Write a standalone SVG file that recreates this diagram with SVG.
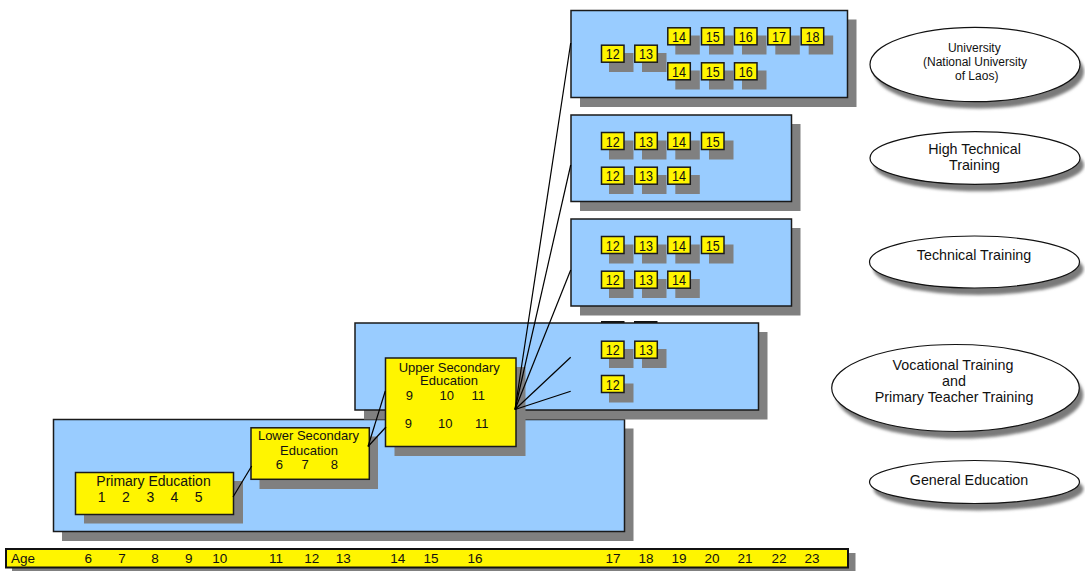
<svg xmlns="http://www.w3.org/2000/svg" width="1085" height="571" viewBox="0 0 1085 571">
<defs>
<filter id="blur" x="-10%" y="-20%" width="120%" height="140%"><feGaussianBlur stdDeviation="1.6"/></filter>
</defs>
<style>
text{font-family:"Liberation Sans",Arial,sans-serif;fill:#111}
.sh{fill:#808080}
.big{fill:#99CCFF;stroke:#1a1a1a;stroke-width:1.5}
.yl{fill:#FFF500;stroke:#1a1a1a;stroke-width:1.5}
.n{font-size:14.5px;text-anchor:middle}
.t13{font-size:13px;text-anchor:middle}
.t14{font-size:14px;text-anchor:middle}
.el{fill:#fff;stroke:#111;stroke-width:1.2}
.esh{fill:#7a7a7a;filter:url(#blur)}
.et{font-size:14.3px;text-anchor:middle}
.eu{font-size:12px;text-anchor:middle}
.age{font-size:13.5px;text-anchor:middle}
.cn line{stroke:#000;stroke-width:1.2}
</style>

<!-- General Education -->
<g id="general-education">
<rect class="sh" x="62" y="428.5" width="571.5" height="112.5"/>
<rect class="big" x="53.5" y="419.5" width="571" height="112"/>
</g>

<!-- Vocational Training -->
<g id="vocational-training">
<rect x="601" y="321" width="23.5" height="2.5" fill="#111"/>
<rect x="634" y="321" width="23.5" height="2.5" fill="#111"/>
<rect class="sh" x="364" y="332" width="403.5" height="87.5"/>
<rect class="big" x="355" y="323" width="403.5" height="87"/>
<rect class="sh" x="609" y="349" width="24.5" height="19"/><rect class="yl" x="601.5" y="341.2" width="22.5" height="17"/><text class="n" x="612.7" y="355.3" textLength="14" lengthAdjust="spacingAndGlyphs">12</text>
<rect class="sh" x="642" y="349" width="24.5" height="19"/><rect class="yl" x="634.8" y="341.2" width="22.5" height="17"/><text class="n" x="646" y="355.3" textLength="14" lengthAdjust="spacingAndGlyphs">13</text>
<rect class="sh" x="609" y="383.5" width="24.5" height="19"/><rect class="yl" x="601.5" y="375.5" width="22.5" height="17"/><text class="n" x="612.7" y="389.6" textLength="14" lengthAdjust="spacingAndGlyphs">12</text>
</g>

<!-- Technical Training -->
<g id="technical-training">
<rect class="sh" x="580" y="228" width="220.5" height="87.5"/>
<rect class="big" x="571" y="219" width="220.5" height="87"/>
<rect class="sh" x="609" y="244.5" width="24.5" height="19"/><rect class="yl" x="601.5" y="236.5" width="22.5" height="17"/><text class="n" x="612.7" y="250.6" textLength="14" lengthAdjust="spacingAndGlyphs">12</text>
<rect class="sh" x="642" y="244.5" width="24.5" height="19"/><rect class="yl" x="634.8" y="236.5" width="22.5" height="17"/><text class="n" x="646" y="250.6" textLength="14" lengthAdjust="spacingAndGlyphs">13</text>
<rect class="sh" x="675.3" y="244.5" width="24.5" height="19"/><rect class="yl" x="667.8" y="236.5" width="22.5" height="17"/><text class="n" x="679" y="250.6" textLength="14" lengthAdjust="spacingAndGlyphs">14</text>
<rect class="sh" x="709" y="244.5" width="24.5" height="19"/><rect class="yl" x="701.5" y="236.5" width="22.5" height="17"/><text class="n" x="712.7" y="250.6" textLength="14" lengthAdjust="spacingAndGlyphs">15</text>
<rect class="sh" x="609" y="279" width="24.5" height="19"/><rect class="yl" x="601.5" y="271.2" width="22.5" height="17"/><text class="n" x="612.7" y="285.3" textLength="14" lengthAdjust="spacingAndGlyphs">12</text>
<rect class="sh" x="642" y="279" width="24.5" height="19"/><rect class="yl" x="634.8" y="271.2" width="22.5" height="17"/><text class="n" x="646" y="285.3" textLength="14" lengthAdjust="spacingAndGlyphs">13</text>
<rect class="sh" x="675.3" y="279" width="24.5" height="19"/><rect class="yl" x="667.8" y="271.2" width="22.5" height="17"/><text class="n" x="679" y="285.3" textLength="14" lengthAdjust="spacingAndGlyphs">14</text>
</g>

<!-- High Technical Training -->
<g id="high-technical-training">
<rect class="sh" x="580" y="124" width="220.5" height="87"/>
<rect class="big" x="571" y="115" width="220.5" height="86.5"/>
<rect class="sh" x="609" y="140.5" width="24.5" height="19"/><rect class="yl" x="601.5" y="132.5" width="22.5" height="17"/><text class="n" x="612.7" y="146.6" textLength="14" lengthAdjust="spacingAndGlyphs">12</text>
<rect class="sh" x="642" y="140.5" width="24.5" height="19"/><rect class="yl" x="634.8" y="132.5" width="22.5" height="17"/><text class="n" x="646" y="146.6" textLength="14" lengthAdjust="spacingAndGlyphs">13</text>
<rect class="sh" x="675.3" y="140.5" width="24.5" height="19"/><rect class="yl" x="667.8" y="132.5" width="22.5" height="17"/><text class="n" x="679" y="146.6" textLength="14" lengthAdjust="spacingAndGlyphs">14</text>
<rect class="sh" x="709" y="140.5" width="24.5" height="19"/><rect class="yl" x="701.5" y="132.5" width="22.5" height="17"/><text class="n" x="712.7" y="146.6" textLength="14" lengthAdjust="spacingAndGlyphs">15</text>
<rect class="sh" x="609" y="175" width="24.5" height="19"/><rect class="yl" x="601.5" y="167.2" width="22.5" height="17"/><text class="n" x="612.7" y="181.3" textLength="14" lengthAdjust="spacingAndGlyphs">12</text>
<rect class="sh" x="642" y="175" width="24.5" height="19"/><rect class="yl" x="634.8" y="167.2" width="22.5" height="17"/><text class="n" x="646" y="181.3" textLength="14" lengthAdjust="spacingAndGlyphs">13</text>
<rect class="sh" x="675.3" y="175" width="24.5" height="19"/><rect class="yl" x="667.8" y="167.2" width="22.5" height="17"/><text class="n" x="679" y="181.3" textLength="14" lengthAdjust="spacingAndGlyphs">14</text>
</g>

<!-- University -->
<g id="university">
<rect class="sh" x="580" y="19.5" width="276.5" height="87.5"/>
<rect class="big" x="571" y="10.5" width="276.5" height="87"/>
<rect class="sh" x="609" y="53" width="24.5" height="19"/><rect class="yl" x="601.5" y="45.2" width="22.5" height="17"/><text class="n" x="612.7" y="59.3" textLength="14" lengthAdjust="spacingAndGlyphs">12</text>
<rect class="sh" x="642" y="53" width="24.5" height="19"/><rect class="yl" x="634.8" y="45.2" width="22.5" height="17"/><text class="n" x="646" y="59.3" textLength="14" lengthAdjust="spacingAndGlyphs">13</text>
<rect class="sh" x="675.3" y="35.5" width="24.5" height="19"/><rect class="yl" x="667.8" y="27.8" width="22.5" height="17"/><text class="n" x="679" y="41.9" textLength="14" lengthAdjust="spacingAndGlyphs">14</text>
<rect class="sh" x="709" y="35.5" width="24.5" height="19"/><rect class="yl" x="701.5" y="27.8" width="22.5" height="17"/><text class="n" x="712.7" y="41.9" textLength="14" lengthAdjust="spacingAndGlyphs">15</text>
<rect class="sh" x="742" y="35.5" width="24.5" height="19"/><rect class="yl" x="734.5" y="27.8" width="22.5" height="17"/><text class="n" x="745.7" y="41.9" textLength="14" lengthAdjust="spacingAndGlyphs">16</text>
<rect class="sh" x="775.3" y="35.5" width="24.5" height="19"/><rect class="yl" x="767.8" y="27.8" width="22.5" height="17"/><text class="n" x="779" y="41.9" textLength="14" lengthAdjust="spacingAndGlyphs">17</text>
<rect class="sh" x="808.7" y="35.5" width="24.5" height="19"/><rect class="yl" x="801.2" y="27.8" width="22.5" height="17"/><text class="n" x="812.4" y="41.9" textLength="14" lengthAdjust="spacingAndGlyphs">18</text>
<rect class="sh" x="675.3" y="70.5" width="24.5" height="19"/><rect class="yl" x="667.8" y="62.8" width="22.5" height="17"/><text class="n" x="679" y="76.9" textLength="14" lengthAdjust="spacingAndGlyphs">14</text>
<rect class="sh" x="709" y="70.5" width="24.5" height="19"/><rect class="yl" x="701.5" y="62.8" width="22.5" height="17"/><text class="n" x="712.7" y="76.9" textLength="14" lengthAdjust="spacingAndGlyphs">15</text>
<rect class="sh" x="742" y="70.5" width="24.5" height="19"/><rect class="yl" x="734.5" y="62.8" width="22.5" height="17"/><text class="n" x="745.7" y="76.9" textLength="14" lengthAdjust="spacingAndGlyphs">16</text>
</g>

<!-- Primary Education -->
<g id="primary-education">
<rect class="sh" x="84" y="481" width="159" height="42.5"/>
<rect class="yl" x="75.5" y="472.5" width="158" height="42"/>
<text class="t14" x="153.5" y="486">Primary Education</text>
<text class="t14" x="101.7" y="502.3">1</text>
<text class="t14" x="126" y="502.3">2</text>
<text class="t14" x="150.3" y="502.3">3</text>
<text class="t14" x="174.3" y="502.3">4</text>
<text class="t14" x="198.7" y="502.3">5</text>
</g>

<!-- Lower Secondary Education -->
<g id="lower-secondary">
<rect class="sh" x="259.5" y="436.5" width="118.5" height="52.5"/>
<rect class="yl" x="251" y="427.8" width="118.3" height="51.5"/>
<text class="t13" x="308.5" y="439.5">Lower Secondary</text>
<text class="t13" x="309" y="455">Education</text>
<text class="t13" x="279.3" y="468.7">6</text>
<text class="t13" x="305" y="468.7">7</text>
<text class="t13" x="334.3" y="468.7">8</text>
</g>

<!-- Upper Secondary Education -->
<g id="upper-secondary">
<rect class="sh" x="394.5" y="367" width="131" height="89"/>
<rect class="yl" x="385.5" y="358" width="130.5" height="88.5"/>
<text class="t13" x="449.3" y="371.8">Upper Secondary</text>
<text class="t13" x="449" y="385">Education</text>
<text class="t13" x="409.3" y="400">9</text>
<text class="t13" x="446.7" y="400">10</text>
<text class="t13" x="478.3" y="400">11</text>
<text class="t13" x="408.3" y="427.7">9</text>
<text class="t13" x="445.3" y="427.7">10</text>
<text class="t13" x="481.7" y="427.7">11</text>
</g>

<!-- Connectors -->
<g id="connectors" class="cn">
<line x1="233" y1="497" x2="251.7" y2="466"/>
<line x1="368" y1="446.5" x2="385.3" y2="391"/>
<line x1="368" y1="446.5" x2="386" y2="427"/>
<line x1="515" y1="409.5" x2="570.7" y2="43"/>
<line x1="515" y1="409.5" x2="570.7" y2="165"/>
<line x1="515" y1="409.5" x2="570.7" y2="270"/>
<line x1="515" y1="409.5" x2="570.7" y2="357.3"/>
<line x1="515" y1="409.5" x2="570.7" y2="391.3"/>
</g>

<!-- Legend ellipses -->
<g id="label-university">
<ellipse class="esh" cx="979" cy="71.5" rx="105" ry="37"/>
<ellipse class="el" cx="975" cy="64.5" rx="105" ry="37.2"/>
<text class="eu" x="974.3" y="51.7">University</text>
<text class="eu" x="975" y="65.5">(National University</text>
<text class="eu" x="976.7" y="80">of Laos)</text>
</g>
<g id="label-high-technical">
<ellipse class="esh" cx="979" cy="165" rx="105" ry="26.3"/>
<ellipse class="el" cx="975" cy="158" rx="105" ry="26.3"/>
<text class="et" x="974.5" y="154">High Technical</text>
<text class="et" x="974.5" y="169.5">Training</text>
</g>
<g id="label-technical">
<ellipse class="esh" cx="978.5" cy="269" rx="105" ry="26"/>
<ellipse class="el" cx="974.5" cy="262" rx="105" ry="26"/>
<text class="et" x="974" y="259.5">Technical Training</text>
</g>
<g id="label-vocational">
<ellipse class="esh" cx="959.5" cy="395" rx="123.8" ry="43.5"/>
<ellipse class="el" cx="955.5" cy="388" rx="123.8" ry="43.5"/>
<text class="et" x="953" y="369.5">Vocational Training</text>
<text class="et" x="954" y="385.5">and</text>
<text class="et" x="954" y="401.5">Primary Teacher Training</text>
</g>
<g id="label-general">
<ellipse class="esh" cx="978.5" cy="489" rx="105" ry="21.5"/>
<ellipse class="el" cx="974.5" cy="482" rx="105" ry="21.5"/>
<text class="et" x="969" y="485">General Education</text>
</g>

<!-- Age bar -->
<g id="age-bar">
<rect class="sh" x="12" y="553" width="843.5" height="20"/>
<rect x="6" y="549" width="842" height="18.5" fill="#FFF500" stroke="#111" stroke-width="2"/>
<text x="11" y="563.3" style="font-size:13.5px">Age</text>
<text class="age" x="88.3" y="563.3">6</text>
<text class="age" x="122" y="563.3">7</text>
<text class="age" x="155" y="563.3">8</text>
<text class="age" x="188.7" y="563.3">9</text>
<text class="age" x="219.7" y="563.3">10</text>
<text class="age" x="276" y="563.3">11</text>
<text class="age" x="311.7" y="563.3">12</text>
<text class="age" x="343.3" y="563.3">13</text>
<text class="age" x="397.7" y="563.3">14</text>
<text class="age" x="431" y="563.3">15</text>
<text class="age" x="475" y="563.3">16</text>
<text class="age" x="613" y="563.3">17</text>
<text class="age" x="646" y="563.3">18</text>
<text class="age" x="679" y="563.3">19</text>
<text class="age" x="712" y="563.3">20</text>
<text class="age" x="745" y="563.3">21</text>
<text class="age" x="779" y="563.3">22</text>
<text class="age" x="812" y="563.3">23</text>
</g>
</svg>
